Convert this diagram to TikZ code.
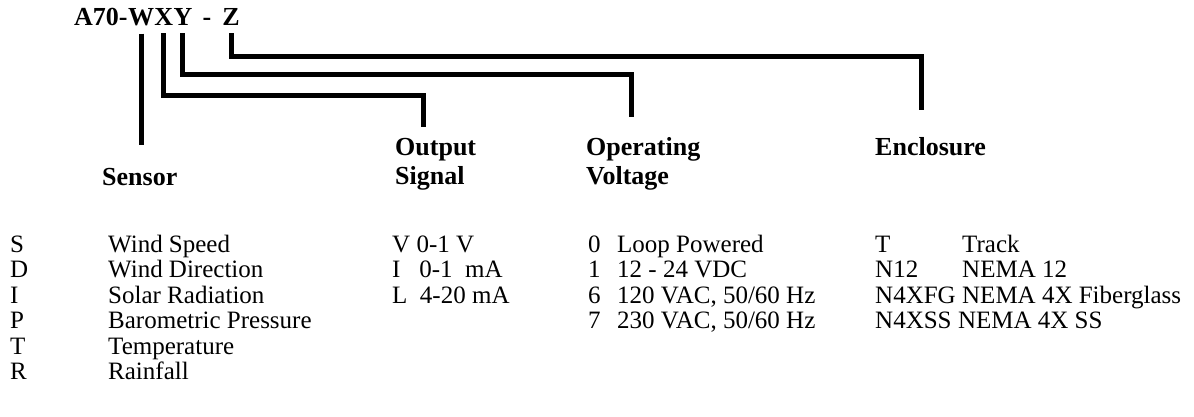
\documentclass[tikz,border=0pt]{standalone}
\usepackage{fontspec}
\setmainfont{Liberation Serif}
\usetikzlibrary{positioning}

\begin{document}
\begin{tikzpicture}[
    x=1pt, y=-1pt,
    node font=\fontsize{25}{25}\selectfont,
    title/.style={font=\fontsize{26}{26}\selectfont\bfseries, inner sep=0pt},
    head/.style={font=\fontsize{26}{26}\selectfont\bfseries, inner sep=0pt, anchor=base west},
    item/.style={inner sep=0pt, anchor=base west},
    lead/.style={line width=5pt, line join=miter}
]
  \useasboundingbox (0,0) rectangle (1194,416);

  % --- PART NUMBER ---
  \node[title, anchor=base] (tW) at (141,25) {W};
  \node[title, anchor=base east] (tA) at (tW.base west) {A70-};
  \node[title, anchor=base west] (tX) at (tW.base east) {X};
  \node[title, anchor=base west] (tY) at (tX.base east) {Y};
  \node[title, anchor=base] (tD) at (207,25) {-};
  \node[title, anchor=base] (tZ) at (231,25) {Z};

  % --- HEADINGS ---
  \node[head] (sensor) at (102,185) {Sensor};
  \node[head] (output) at (395,155) {Output};
  \node[head] (signal) at (395,184) {Signal};
  \node[head] (operating) at (586,155) {Operating};
  \node[head] (voltage) at (586,184) {Voltage};
  \node[head] (enclosure) at (875,155) {Enclosure};

  % lead ends
  \coordinate (sensor-end) at (141,145);
  \coordinate (output-end) at (423,127);
  \coordinate (voltage-end) at (631,117);
  \coordinate (enclosure-end) at (921,110);

  % --- LEADS ---
  \draw[lead] ([yshift=-8pt]tW.south) -- (sensor-end);
  \draw[lead] ([yshift=-8pt]tX.south) |- ([yshift=32pt]output-end) -- (output-end);
  \draw[lead] ([yshift=-8pt]tY.south) |- ([yshift=43pt]voltage-end) -- (voltage-end);
  \draw[lead] ([yshift=-8pt]tZ.south) |- ([yshift=54pt]enclosure-end) -- (enclosure-end);

  % --- SENSOR CODES ---
  \foreach \c/\t [count=\i] in {S/Wind Speed, D/Wind Direction, I/Solar Radiation,
      P/Barometric Pressure, T/Temperature, R/Rainfall} {
    \node[item] (s-c\i) at (10,226.5+25.5*\i) {\c};
    \node[item] (s-t\i) at (108,226.5+25.5*\i) {\t};
  }

  % --- OUTPUT CODES ---
  \foreach \t [count=\i] in {V 0-1 V, I\ \ \ 0-1\ \ mA, L\ \ 4-20 mA} {
    \node[item] (o-\i) at (392,226.5+25.5*\i) {\t};
  }

  % --- VOLTAGE CODES ---
  \foreach \c/\t [count=\i] in {0/Loop Powered, 1/12 - 24 VDC,
      6/{120 VAC, 50/60 Hz}, 7/{230 VAC, 50/60 Hz}} {
    \node[item] (v-c\i) at (588,226.5+25.5*\i) {\c};
    \node[item] (v-t\i) at (617,226.5+25.5*\i) {\t};
  }

  % --- ENCLOSURE CODES ---
  \node[item] (e-c1) at (875,252) {T};
  \node[item] (e-t1) at (962,252) {Track};
  \node[item] (e-c2) at (875,277.5) {N12};
  \node[item] (e-t2) at (962,277.5) {NEMA 12};
  \node[item] (e-c3) at (875,303) {N4XFG};
  \node[item] (e-t3) at ([xshift=6pt]e-c3.base east) {NEMA 4X Fiberglass};
  \node[item] (e-c4) at (875,328.5) {N4XSS};
  \node[item] (e-t4) at ([xshift=6pt]e-c4.base east) {NEMA 4X SS};

\end{tikzpicture}
\end{document}
